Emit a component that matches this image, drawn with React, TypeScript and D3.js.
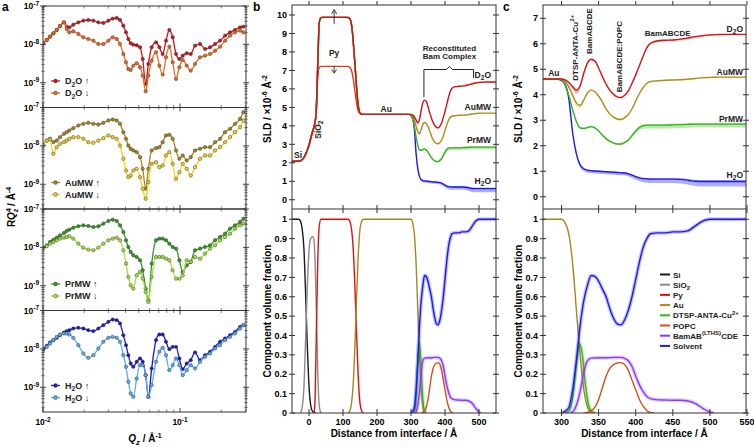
import React from 'react';
import * as d3 from 'd3';

// ---------- Panel a data (RQz^4 vs Qz) ----------
const Q = [0.0100, 0.01064, 0.01125, 0.01190, 0.01259, 0.01331, 0.01423, 0.01489, 0.01557, 0.01664, 0.01811, 0.01970, 0.02142, 0.02330, 0.02534, 0.02756, 0.02999, 0.03225, 0.03448, 0.03648, 0.03857, 0.04034, 0.04196, 0.04365, 0.04563, 0.04828, 0.05105, 0.05340, 0.05616, 0.05873, 0.06211, 0.06680, 0.07066, 0.07470, 0.07900, 0.08357, 0.08841, 0.09350, 0.09888, 0.1046, 0.1119, 0.1197, 0.1287, 0.1400, 0.1522, 0.1656, 0.1801, 0.1959, 0.2131, 0.2317, 0.2521, 0.2742, 0.2899];
const D2O_UP = [1.07e-8, 1.30e-8, 1.59e-8, 1.94e-8, 2.37e-8, 3.01e-8, 3.75e-8, 2.90e-8, 2.78e-8, 3.26e-8, 3.75e-8, 4.15e-8, 4.32e-8, 4.15e-8, 3.75e-8, 3.61e-8, 4.15e-8, 4.68e-8, 4.87e-8, 4.32e-8, 3.07e-8, 2.06e-8, 1.38e-8, 1.07e-8, 9.84e-9, 9.45e-9, 8.39e-9, 4.17e-9, 9.3e-10, 3.09e-9, 8.39e-9, 1.13e-8, 8.39e-9, 5.62e-9, 1.25e-8, 2.37e-8, 1.53e-8, 5.62e-9, 4.17e-9, 5.09e-9, 5.85e-9, 5.62e-9, 9.27e-9, 1.02e-8, 7.59e-9, 8.39e-9, 1.02e-8, 1.25e-8, 1.69e-8, 2.06e-8, 2.37e-8, 2.78e-8, 2.90e-8];
const D2O_DOWN = [1.07e-8, 1.30e-8, 1.59e-8, 1.94e-8, 2.37e-8, 3.01e-8, 3.75e-8, 2.52e-8, 2.06e-8, 2.19e-8, 1.87e-8, 1.53e-8, 1.38e-8, 1.25e-8, 1.02e-8, 1.02e-8, 1.25e-8, 1.53e-8, 1.38e-8, 1.02e-8, 5.62e-9, 3.41e-9, 2.29e-9, 2.15e-9, 2.79e-9, 3.21e-9, 2.53e-9, 1.53e-9, 5.99e-10, 1.53e-9, 3.77e-9, 6.21e-9, 2.79e-9, 1.63e-9, 4.61e-9, 8.73e-9, 3.41e-9, 1.26e-9, 2.53e-9, 3.92e-9, 2.79e-9, 2.07e-9, 3.09e-9, 4.61e-9, 5.09e-9, 5.62e-9, 6.87e-9, 8.73e-9, 1.25e-8, 1.69e-8, 2.06e-8, 2.28e-8, 2.06e-8];
const AUMW_UP = [1.07e-8, 1.38e-8, 1.53e-8, 1.25e-8, 1.38e-8, 1.69e-8, 2.06e-8, 2.28e-8, 2.52e-8, 2.90e-8, 3.40e-8, 3.75e-8, 3.99e-8, 3.75e-8, 3.61e-8, 3.99e-8, 4.59e-8, 4.87e-8, 4.59e-8, 3.75e-8, 2.28e-8, 1.53e-8, 1.02e-8, 8.39e-9, 7.59e-9, 6.87e-9, 5.09e-9, 2.53e-9, 7.62e-10, 2.53e-9, 7.59e-9, 8.73e-9, 9.27e-9, 1.25e-8, 1.87e-8, 1.94e-8, 1.53e-8, 7.59e-9, 4.61e-9, 5.62e-9, 4.17e-9, 5.09e-9, 7.59e-9, 8.39e-9, 9.27e-9, 9.27e-9, 1.25e-8, 1.53e-8, 2.28e-8, 2.78e-8, 3.75e-8, 5.07e-8, 7.56e-8];
const AUMW_DOWN = [1.07e-8, 1.38e-8, 1.47e-8, 6.21e-9, 9.27e-9, 1.13e-8, 1.25e-8, 1.38e-8, 1.53e-8, 1.69e-8, 1.69e-8, 1.53e-8, 1.25e-8, 1.20e-8, 1.38e-8, 1.59e-8, 1.87e-8, 1.69e-8, 1.53e-8, 1.02e-8, 4.61e-9, 2.29e-9, 1.53e-9, 1.69e-9, 2.29e-9, 2.53e-9, 1.53e-9, 7.62e-10, 4.18e-10, 1.14e-9, 3.41e-9, 3.77e-9, 2.79e-9, 3.09e-9, 5.62e-9, 6.87e-9, 3.41e-9, 1.39e-9, 2.07e-9, 3.41e-9, 2.53e-9, 1.69e-9, 2.79e-9, 4.61e-9, 5.62e-9, 5.62e-9, 7.59e-9, 9.27e-9, 1.25e-8, 1.69e-8, 2.28e-8, 3.07e-8, 4.59e-8];
const PRMW_UP = [9.84e-9, 1.13e-8, 1.38e-8, 1.59e-8, 1.79e-8, 2.06e-8, 2.37e-8, 2.67e-8, 2.90e-8, 3.26e-8, 3.54e-8, 3.75e-8, 3.61e-8, 3.40e-8, 3.54e-8, 4.15e-8, 4.87e-8, 5.27e-8, 4.87e-8, 3.75e-8, 2.52e-8, 1.53e-8, 1.02e-8, 7.59e-9, 6.21e-9, 5.62e-9, 4.61e-9, 2.53e-9, 8.41e-10, 4.18e-10, 3.77e-9, 1.53e-8, 1.69e-8, 1.69e-8, 1.53e-8, 1.25e-8, 1.02e-8, 9.27e-9, 4.61e-9, 2.29e-9, 3.41e-9, 4.17e-9, 8.39e-9, 9.27e-9, 1.02e-8, 1.13e-8, 1.53e-8, 1.87e-8, 2.28e-8, 3.07e-8, 3.75e-8, 4.59e-8, 5.60e-8];
const PRMW_DOWN = [9.27e-9, 1.07e-8, 1.25e-8, 1.38e-8, 1.53e-8, 1.69e-8, 1.79e-8, 1.87e-8, 1.94e-8, 1.69e-8, 1.25e-8, 9.84e-9, 8.73e-9, 8.39e-9, 9.84e-9, 1.25e-8, 1.53e-8, 1.69e-8, 1.79e-8, 1.53e-8, 8.39e-9, 3.77e-9, 1.69e-9, 1.03e-9, 8.41e-10, 1.87e-9, 2.29e-9, 1.53e-9, 6.89e-10, 3.78e-10, 1.69e-9, 5.62e-9, 5.62e-9, 5.62e-9, 5.09e-9, 4.61e-9, 2.53e-9, 1.53e-9, 1.53e-9, 1.87e-9, 4.61e-9, 4.17e-9, 5.62e-9, 5.09e-9, 6.87e-9, 9.27e-9, 1.13e-8, 1.53e-8, 1.87e-8, 2.28e-8, 3.07e-8, 3.75e-8, 4.15e-8];
const H2O_UP = [9.84e-9, 1.20e-8, 1.47e-8, 1.69e-8, 1.94e-8, 2.28e-8, 2.67e-8, 2.90e-8, 3.07e-8, 3.40e-8, 3.54e-8, 3.40e-8, 3.07e-8, 2.90e-8, 3.40e-8, 4.15e-8, 5.07e-8, 5.83e-8, 5.60e-8, 4.59e-8, 2.28e-8, 1.25e-8, 6.87e-9, 4.17e-9, 3.41e-9, 4.61e-9, 5.62e-9, 4.61e-9, 2.07e-9, 5.64e-10, 3.09e-9, 1.69e-8, 2.37e-8, 2.37e-8, 1.53e-8, 9.84e-9, 1.13e-8, 1.13e-8, 5.62e-9, 2.97e-9, 4.17e-9, 5.09e-9, 8.1e-9, 5.09e-9, 6.87e-9, 8.39e-9, 1.13e-8, 1.53e-8, 1.87e-8, 2.28e-8, 2.78e-8, 3.75e-8, 4.15e-8];
const H2O_DOWN = [9.27e-9, 1.13e-8, 1.38e-8, 1.69e-8, 2.06e-8, 2.37e-8, 2.52e-8, 2.52e-8, 2.37e-8, 1.94e-8, 1.25e-8, 7.59e-9, 5.85e-9, 6.87e-9, 1.02e-8, 1.53e-8, 1.94e-8, 2.06e-8, 1.94e-8, 1.53e-8, 6.87e-9, 3.41e-9, 1.39e-9, 6.89e-10, 5.64e-10, 1.69e-9, 3.77e-9, 3.77e-9, 2.07e-9, 5.64e-10, 1.14e-9, 4.61e-9, 8.39e-9, 1.07e-8, 6.87e-9, 2.79e-9, 3.77e-9, 5.62e-9, 3.77e-9, 2.07e-9, 2.79e-9, 3.77e-9, 3.09e-9, 4.61e-9, 6.21e-9, 7.59e-9, 1.02e-8, 1.25e-8, 1.69e-8, 2.06e-8, 2.52e-8, 3.40e-8, 4.15e-8];
const A_XTICKS = [0.01, 0.1];
const A_YTICKS = [1e-7, 1e-8, 1e-9];

// ---------- SLD profile data ----------
const SUB_X = [-50, -26, -20, -15, -11, -5, -1, 4, 9, 16, 21, 24, 27, 30, 33, 36, 40, 112, 117, 122, 127, 132, 137, 142, 147, 151, 156, 162];
const PY_UP = [2.07, 2.1, 2.18, 2.28, 2.43, 2.68, 2.88, 3.25, 3.6, 4.05, 4.68, 6.3, 8.1, 9.55, 9.8, 9.86, 9.87, 9.87, 9.85, 9.73, 9.19, 8.11, 6.85, 5.59, 4.86, 4.67, 4.63, 4.62];
const PY_DOWN = [2.07, 2.1, 2.18, 2.28, 2.43, 2.68, 2.88, 3.25, 3.6, 4.05, 4.68, 6.0, 6.9, 7.15, 7.2, 7.22, 7.22, 7.22, 7.2, 7.12, 6.85, 6.3, 5.6, 5.0, 4.72, 4.65, 4.63, 4.62];
const TAIL_X = [295, 300, 305, 310, 315, 320, 325, 330, 335, 340, 345, 350, 355, 360, 365, 370, 375, 380, 385, 390, 395, 400, 405, 410, 415, 420, 430, 440, 450, 460, 470, 480, 490, 500, 510, 520, 535, 550];
const D2O_SLD = [4.62, 4.62, 4.58, 4.48, 4.32, 4.18, 4.35, 4.85, 5.25, 5.39, 5.32, 5.05, 4.72, 4.42, 4.18, 4.02, 3.92, 3.89, 3.98, 4.15, 4.45, 4.78, 5.15, 5.52, 5.85, 6.02, 6.12, 6.14, 6.15, 6.18, 6.23, 6.28, 6.32, 6.35, 6.36, 6.37, 6.37, 6.37];
const AUMW_SLD = [4.62, 4.61, 4.52, 4.30, 3.98, 3.68, 3.58, 3.80, 4.08, 4.18, 4.12, 3.95, 3.72, 3.45, 3.25, 3.12, 3.05, 3.03, 3.10, 3.22, 3.45, 3.75, 4.05, 4.28, 4.45, 4.52, 4.55, 4.57, 4.58, 4.59, 4.61, 4.64, 4.67, 4.68, 4.69, 4.69, 4.69, 4.69];
const PRMW_SLD = [4.62, 4.58, 4.35, 3.95, 3.40, 2.95, 2.70, 2.68, 2.72, 2.75, 2.70, 2.58, 2.42, 2.28, 2.18, 2.11, 2.07, 2.07, 2.13, 2.23, 2.40, 2.58, 2.72, 2.79, 2.81, 2.81, 2.81, 2.81, 2.82, 2.83, 2.84, 2.85, 2.85, 2.85, 2.85, 2.85, 2.85, 2.85];
const H2O_SLD = [4.62, 4.55, 4.40, 3.80, 2.50, 1.68, 1.25, 1.10, 1.04, 1.02, 1.01, 1.00, 0.99, 0.98, 0.97, 0.96, 0.95, 0.94, 0.93, 0.90, 0.85, 0.79, 0.74, 0.71, 0.70, 0.69, 0.69, 0.69, 0.69, 0.68, 0.65, 0.61, 0.60, 0.60, 0.60, 0.60, 0.60, 0.60];
const D2O_BAND = [0.02, 0.02, 0.04, 0.08, 0.12, 0.14, 0.12, 0.08, 0.05, 0.05, 0.04, 0.04, 0.04, 0.04, 0.04, 0.04, 0.04, 0.04, 0.04, 0.04, 0.04, 0.04, 0.04, 0.04, 0.04, 0.04, 0.05, 0.05, 0.05, 0.05, 0.06, 0.06, 0.05, 0.05, 0.04, 0.04, 0.04, 0.04];
const AUMW_BAND = [0.02, 0.02, 0.04, 0.06, 0.1, 0.12, 0.1, 0.06, 0.04, 0.03, 0.03, 0.03, 0.03, 0.03, 0.03, 0.03, 0.03, 0.03, 0.03, 0.03, 0.03, 0.03, 0.03, 0.03, 0.03, 0.03, 0.03, 0.03, 0.03, 0.03, 0.03, 0.03, 0.03, 0.03, 0.03, 0.03, 0.03, 0.03];
const PRMW_BAND = [0.02, 0.02, 0.02, 0.02, 0.02, 0.02, 0.04, 0.05, 0.05, 0.05, 0.04, 0.04, 0.04, 0.04, 0.04, 0.04, 0.04, 0.04, 0.05, 0.06, 0.08, 0.1, 0.11, 0.12, 0.13, 0.13, 0.13, 0.13, 0.13, 0.13, 0.13, 0.13, 0.13, 0.13, 0.13, 0.13, 0.13, 0.13];
const H2O_BAND = [0.02, 0.02, 0.02, 0.03, 0.05, 0.07, 0.09, 0.1, 0.1, 0.1, 0.1, 0.1, 0.1, 0.1, 0.1, 0.1, 0.1, 0.1, 0.1, 0.1, 0.11, 0.12, 0.13, 0.14, 0.15, 0.15, 0.15, 0.15, 0.15, 0.16, 0.17, 0.19, 0.2, 0.2, 0.2, 0.2, 0.2, 0.2];

// ---------- Component volume fractions ----------
const SI_X = [-50, -30, -25, -20, -15, -10, -5, 0, 5, 10, 15, 20];
const SI_Y = [1, 1, 0.99, 0.95, 0.85, 0.62, 0.35, 0.14, 0.04, 0.01, 0.003, 0];
const SIO2_X = [-25, -20, -15, -10, -5, 0, 5, 10, 14, 18, 22, 26, 30, 35];
const SIO2_Y = [0, 0.03, 0.13, 0.38, 0.65, 0.84, 0.9, 0.91, 0.9, 0.78, 0.5, 0.2, 0.04, 0];
const PY_X = [15, 18, 22, 26, 30, 35, 115, 120, 125, 130, 135, 138, 140, 145, 150, 155, 160];
const PY_Y = [0, 0.08, 0.45, 0.8, 0.96, 1, 1, 0.99, 0.95, 0.85, 0.65, 0.5, 0.4, 0.18, 0.05, 0.01, 0];
const AU_X = [115, 120, 125, 130, 135, 138, 140, 145, 150, 155, 160, 300, 305, 310, 315, 320, 325, 330, 335, 340];
const AU_Y = [0, 0.01, 0.05, 0.15, 0.35, 0.5, 0.6, 0.82, 0.95, 0.99, 1, 1, 0.98, 0.92, 0.77, 0.53, 0.3, 0.12, 0.03, 0];
const DTSP_X = [305, 310, 315, 320, 324, 328, 332, 336, 340, 345];
const DTSP_Y = [0, 0.01, 0.08, 0.25, 0.36, 0.3, 0.15, 0.05, 0.01, 0];
const POPC_X = [330, 335, 340, 345, 350, 355, 360, 365, 370, 375, 380, 385, 390, 395, 400, 405, 410, 415, 420, 425];
const POPC_Y = [0, 0.003, 0.012, 0.03, 0.07, 0.13, 0.19, 0.23, 0.25, 0.258, 0.26, 0.25, 0.22, 0.17, 0.12, 0.07, 0.035, 0.012, 0.003, 0];
const BAM_X = [312, 316, 320, 325, 330, 335, 340, 350, 360, 370, 380, 385, 390, 395, 400, 405, 410, 415, 420, 430, 440, 450, 460, 470, 480, 490, 500, 505];
const BAM_Y = [0, 0.01, 0.04, 0.11, 0.21, 0.27, 0.283, 0.285, 0.285, 0.287, 0.287, 0.282, 0.27, 0.24, 0.19, 0.145, 0.11, 0.085, 0.074, 0.068, 0.067, 0.066, 0.066, 0.062, 0.05, 0.025, 0.005, 0];
const SOLV_X = [300, 305, 310, 315, 320, 325, 330, 335, 340, 345, 350, 355, 360, 365, 370, 375, 380, 385, 390, 395, 400, 405, 410, 415, 420, 430, 440, 450, 460, 470, 480, 490, 500, 510, 550];
const SOLV_Y = [0, 0.01, 0.03, 0.12, 0.27, 0.45, 0.58, 0.66, 0.71, 0.705, 0.68, 0.64, 0.6, 0.54, 0.49, 0.46, 0.455, 0.48, 0.53, 0.6, 0.69, 0.78, 0.855, 0.9, 0.925, 0.93, 0.93, 0.935, 0.935, 0.94, 0.965, 0.99, 1, 1, 1];

const FONT = "'Liberation Sans', Arial, Helvetica, sans-serif";
const AXC = '#333';

const Sub = ({ c }: { c: string }) => <tspan dy={2.5} fontSize="0.75em">{c}</tspan>;

// ---------- Panel a ----------
function PanelA() {
  const x = d3.scaleLog().domain([0.01, 0.303]).range([43, 246]);
  const tops = [6, 107.5, 209, 310.5];
  const h = 101.5;
  const subs = [
    { up: D2O_UP, down: D2O_DOWN, cu: '#c8141a', cd: '#ee6a1e', name: 'D2O' },
    { up: AUMW_UP, down: AUMW_DOWN, cu: '#a8861c', cd: '#f2d21e', name: 'AuMW' },
    { up: PRMW_UP, down: PRMW_DOWN, cu: '#2f9a1f', cd: '#a6e23c', name: 'PrMW' },
    { up: H2O_UP, down: H2O_DOWN, cu: '#1818cc', cd: '#5aaeea', name: 'H2O' },
  ];
  const minorX: number[] = [];
  for (const d of [0.01, 0.1]) for (let k = 2; k <= 9; k++) if (k * d <= 0.303) minorX.push(k * d);
  const nameEl = (n: string) =>
    n === 'D2O' ? <>D<Sub c="2" /><tspan dy={-2.5}>O</tspan></> :
    n === 'H2O' ? <>H<Sub c="2" /><tspan dy={-2.5}>O</tspan></> : <>{n}</>;
  return (
    <g>
      <text x={2} y={11} fontSize={12} fontWeight="bold">a</text>
      {subs.map((s, i) => {
        const top = tops[i], bot = top + h;
        const y = d3.scaleLog().domain([2.265e-10, 1e-7]).range([bot, top]);
        const line = d3.line<number>().x((_, j) => x(Q[j])).y(v => y(v)).curve(d3.curveMonotoneX);
        const minorY: number[] = [];
        for (const d of [1e-10, 1e-9, 1e-8]) for (let k = 2; k <= 9; k++) { const v = k * d; if (v >= 2.265e-10 && v <= 1e-7) minorY.push(v); }
        const legRows = [{ c: s.cu, arrow: '↑', dy: 75 }, { c: s.cd, arrow: '↓', dy: 87 }];
        return (
          <g key={i}>
            <clipPath id={`ca${i}`}><rect x={43} y={top} width={203} height={h} /></clipPath>
            <g clipPath={`url(#ca${i})`}>
              {[{ v: s.up, c: s.cu }, { v: s.down, c: s.cd }].map((ser, k) => (
                <g key={k}>
                  <path d={line(ser.v) || ''} fill="none" stroke={ser.c} strokeWidth={1.3} />
                  {ser.v.map((v, j) => (
                    <circle key={j} cx={x(Q[j])} cy={y(v)} r={1.7} fill={ser.c} stroke="#3a3a3a" strokeWidth={0.5} />
                  ))}
                </g>
              ))}
            </g>
            <rect x={43} y={top} width={203} height={h} fill="none" stroke={AXC} strokeWidth={1} />
            {A_YTICKS.map(v => (
              <g key={v}>
                <line x1={43 - 3} x2={43 + 3} y1={y(v)} y2={y(v)} stroke={AXC} strokeWidth={0.9} />
                <line x1={246 - 3} x2={246 + 3} y1={y(v)} y2={y(v)} stroke={AXC} strokeWidth={0.9} />
                <text x={39} y={y(v) + 3} textAnchor="end" fontSize={8.5} fontWeight="bold">10<tspan dy={-3.5} fontSize={6.5}>{Math.round(Math.log10(v))}</tspan></text>
              </g>
            ))}
            {minorY.map(v => (
              <g key={v}>
                <line x1={43 - 1.8} x2={43 + 1.8} y1={y(v)} y2={y(v)} stroke={AXC} strokeWidth={0.6} />
                <line x1={246 - 1.8} x2={246 + 1.8} y1={y(v)} y2={y(v)} stroke={AXC} strokeWidth={0.6} />
              </g>
            ))}
            {A_XTICKS.map(v => (
              <g key={v}>
                <line x1={x(v)} x2={x(v)} y1={top} y2={top + 4} stroke={AXC} strokeWidth={0.9} />
                <line x1={x(v)} x2={x(v)} y1={bot} y2={bot - 4} stroke={AXC} strokeWidth={0.9} />
              </g>
            ))}
            {minorX.map(v => (
              <g key={v}>
                <line x1={x(v)} x2={x(v)} y1={top} y2={top + 2.5} stroke={AXC} strokeWidth={0.6} />
                <line x1={x(v)} x2={x(v)} y1={bot} y2={bot - 2.5} stroke={AXC} strokeWidth={0.6} />
              </g>
            ))}
            {legRows.map((r, k) => (
              <g key={k}>
                <line x1={51} x2={60} y1={top + r.dy} y2={top + r.dy} stroke={r.c} strokeWidth={1.3} />
                <circle cx={55.5} cy={top + r.dy} r={1.9} fill={r.c} stroke="#3a3a3a" strokeWidth={0.5} />
                <text x={65} y={top + r.dy + 3.2} fontSize={9} fontWeight="bold" fill="#222">{nameEl(s.name)} {r.arrow}</text>
              </g>
            ))}
          </g>
        );
      })}
      {A_XTICKS.map(v => (
        <text key={v} x={x(v)} y={425} textAnchor="middle" fontSize={8.5} fontWeight="bold">10<tspan dy={-3.5} fontSize={6.5}>{Math.round(Math.log10(v))}</tspan></text>
      ))}
      <text x={145} y={442} textAnchor="middle" fontSize={10} fontWeight="bold"><tspan fontStyle="italic">Q</tspan><tspan dy={2.5} fontSize={7.5} fontStyle="italic">z</tspan><tspan dy={-2.5}> / Å</tspan><tspan dy={-4} fontSize={7}>-1</tspan></text>
      <text transform="translate(15,207) rotate(-90)" textAnchor="middle" fontSize={10} fontWeight="bold">R<tspan fontStyle="italic">Q</tspan><tspan dy={-4} fontSize={7}>4</tspan><tspan dx={-4} dy={6.5} fontSize={7} fontStyle="italic">z</tspan><tspan dy={-2.5}> / Å</tspan><tspan dy={-4} fontSize={7}>-4</tspan></text>
    </g>
  );
}

// ---------- shared SLD+component helpers ----------
const CONTRASTS = [
  { v: H2O_SLD, band: H2O_BAND, c: '#1a1af0', bc: '#9a9af5' },
  { v: PRMW_SLD, band: PRMW_BAND, c: '#35b01c', bc: '#a8e49a' },
  { v: AUMW_SLD, band: AUMW_BAND, c: '#b08a1a', bc: '#e8dc90' },
  { v: D2O_SLD, band: D2O_BAND, c: '#d41414', bc: '#f0a0a0' },
];
const COMPS = [
  { x: SI_X, y: SI_Y, c: '#1a1a1a', halo: false },
  { x: SIO2_X, y: SIO2_Y, c: '#8a8a8a', halo: false },
  { x: PY_X, y: PY_Y, c: '#e01010', halo: false },
  { x: AU_X, y: AU_Y, c: '#a8861a', halo: false },
  { x: DTSP_X, y: DTSP_Y, c: '#3cb020', halo: true },
  { x: POPC_X, y: POPC_Y, c: '#d4501a', halo: false },
  { x: BAM_X, y: BAM_Y, c: '#8a3cf0', halo: true },
  { x: SOLV_X, y: SOLV_Y, c: '#1a1af0', halo: true },
];

function Profiles({ id, x, ys, yc, left, right, xTicks, sTicks, cTicks, top, mid, bot, children }: any) {
  const fullX = SUB_X.concat(TAIL_X);
  const line = (xs: number[]) => d3.line<number>().x((_, j) => x(xs[j])).y(v => ys(v)).curve(d3.curveMonotoneX);
  const area = d3.area<number>().x((_, j) => x(TAIL_X[j])).curve(d3.curveMonotoneX);
  const cline = (xs: number[]) => d3.line<number>().x((_, j) => x(xs[j])).y(v => yc(v)).curve(d3.curveMonotoneX);
  const w = right - left;
  return (
    <g>
      <clipPath id={`s${id}`}><rect x={left} y={top} width={w} height={mid - top} /></clipPath>
      <clipPath id={`c${id}`}><rect x={left} y={mid} width={w} height={bot - mid} /></clipPath>
      <g clipPath={`url(#s${id})`}>
        {CONTRASTS.map((ct, i) => (
          <path key={i} d={area.y0((_, j) => ys(ct.v[j] - ct.band[j])).y1((_, j) => ys(ct.v[j] + ct.band[j] * 0.3))(ct.v) || ''} fill={ct.bc} opacity={0.8} />
        ))}
        <path d={line(SUB_X)(PY_DOWN) || ''} fill="none" stroke="#d8401a" strokeWidth={1.4} />
        {CONTRASTS.map((ct, i) => (
          <path key={i} d={line(fullX)(PY_UP.concat(ct.v)) || ''} fill="none" stroke={ct.c} strokeWidth={1.4} />
        ))}
      </g>
      <g clipPath={`url(#c${id})`}>
        {COMPS.map((cp, i) => (
          <g key={i}>
            {cp.halo && <path d={cline(cp.x)(cp.y) || ''} fill="none" stroke={cp.c} strokeOpacity={0.25} strokeWidth={4} />}
            <path d={cline(cp.x)(cp.y) || ''} fill="none" stroke={cp.c} strokeWidth={1.4} />
          </g>
        ))}
      </g>
      <rect x={left} y={top} width={w} height={bot - top} fill="none" stroke={AXC} strokeWidth={1} />
      <line x1={left} x2={right} y1={mid} y2={mid} stroke={AXC} strokeWidth={1} />
      {xTicks.map((t: number) => (
        <g key={t}>
          <line x1={x(t)} x2={x(t)} y1={top - 4} y2={top} stroke={AXC} />
          <line x1={x(t)} x2={x(t)} y1={mid - 4} y2={mid + 4} stroke={AXC} />
          <line x1={x(t)} x2={x(t)} y1={bot - 4} y2={bot + 3} stroke={AXC} />
          <text x={x(t)} y={425} textAnchor="middle" fontSize={9} fontWeight="bold">{t}</text>
        </g>
      ))}
      {sTicks.map((t: number) => (
        <g key={t}>
          <line x1={left - 3} x2={left + 3} y1={ys(t)} y2={ys(t)} stroke={AXC} />
          <line x1={right - 3} x2={right + 3} y1={ys(t)} y2={ys(t)} stroke={AXC} />
          <text x={left - 5} y={ys(t) + 3.2} textAnchor="end" fontSize={9} fontWeight="bold">{t}</text>
        </g>
      ))}
      {cTicks.map((t: number) => (
        <g key={t}>
          <line x1={left - 3} x2={left + 3} y1={yc(t)} y2={yc(t)} stroke={AXC} />
          <line x1={right - 3} x2={right + 3} y1={yc(t)} y2={yc(t)} stroke={AXC} />
          <text x={left - 5} y={yc(t) + 3.2} textAnchor="end" fontSize={9} fontWeight="bold">{t === 0 || t === 1 ? t : t.toFixed(1)}</text>
        </g>
      ))}
      <text x={(left + right) / 2} y={437} textAnchor="middle" fontSize={10} fontWeight="bold">Distance from interface / Å</text>
      <text transform={`translate(${left - 21},${(top + mid) / 2 + 2}) rotate(-90)`} textAnchor="middle" fontSize={10} fontWeight="bold">SLD / ×10<tspan dy={-4} fontSize={7}>-6</tspan><tspan dy={4}> Å</tspan><tspan dy={-4} fontSize={7}>-2</tspan></text>
      <text transform={`translate(${left - 21},${(mid + bot) / 2}) rotate(-90)`} textAnchor="middle" fontSize={10} fontWeight="bold">Component volume fraction</text>
      {children}
    </g>
  );
}

const B_XTICKS = [0, 100, 200, 300, 400, 500];
const C_XTICKS = [300, 350, 400, 450, 500, 550];
const B_STICKS = [0, 1, 2, 3, 4, 5, 6, 7, 8, 9, 10];
const C_STICKS = [0, 1, 2, 3, 4, 5, 6, 7];
const COMP_TICKS = [0, 0.1, 0.2, 0.3, 0.4, 0.5, 0.6, 0.7, 0.8, 0.9, 1];

const fs8 = { fontSize: 8.5, fontWeight: 'bold' as const, fill: '#222' };

function PanelB() {
  const x = d3.scaleLinear().domain([-50, 550]).range([292, 496]);
  const ys = d3.scaleLinear().domain([-0.5, 10.54]).range([209, 5]);
  const yc = d3.scaleLinear().domain([0, 1.053]).range([413, 209]);
  const bl = x(338), br = x(484), bm = x(413), by = ys(7.05);
  return (
    <g>
      <text x={253} y={11} fontSize={12} fontWeight="bold">b</text>
      <Profiles id="b" x={x} ys={ys} yc={yc} left={292} right={496} xTicks={B_XTICKS} sTicks={B_STICKS} cTicks={COMP_TICKS} top={5} mid={209} bot={413}>
        <text x={x(-44)} y={ys(2.27)} {...fs8}>Si</text>
        <text transform={`translate(${x(34)},${ys(3.3)}) rotate(-90)`} {...fs8}>SiO<tspan dy={2} fontSize={6.5}>2</tspan></text>
        <text x={x(74)} y={ys(7.8)} textAnchor="middle" {...fs8}>Py</text>
        <line x1={x(74)} x2={x(74)} y1={ys(9.5)} y2={ys(10.2)} stroke="#222" strokeWidth={0.9} />
        <path d={`M${x(74) - 2.5},${ys(10.05)} L${x(74)},${ys(10.3)} L${x(74) + 2.5},${ys(10.05)}`} fill="none" stroke="#222" strokeWidth={0.9} />
        <line x1={x(74)} x2={x(74)} y1={ys(7.25)} y2={ys(6.9)} stroke="#222" strokeWidth={0.9} />
        <path d={`M${x(74) - 2.5},${ys(7.05)} L${x(74)},${ys(6.85)} L${x(74) + 2.5},${ys(7.05)}`} fill="none" stroke="#222" strokeWidth={0.9} />
        <text x={x(227)} y={ys(4.75)} textAnchor="middle" {...fs8}>Au</text>
        <text x={x(413)} y={ys(8.05)} textAnchor="middle" fontSize={8} fontWeight="bold" fill="#222">Reconstituted</text>
        <text x={x(413)} y={ys(7.6)} textAnchor="middle" fontSize={8} fontWeight="bold" fill="#222">Bam Complex</text>
        <path d={`M${bl},${ys(5.55)} L${bl},${by} L${bm - 3},${by} L${bm},${by - 3} L${bm + 3},${by} L${br},${by} L${br},${ys(6.6)}`} fill="none" stroke="#222" strokeWidth={1} />
        <text x={491} y={ys(6.58)} textAnchor="end" {...fs8}>D<tspan dy={2} fontSize={6.5}>2</tspan><tspan dy={-2}>O</tspan></text>
        <text x={491} y={ys(4.88)} textAnchor="end" {...fs8}>AuMW</text>
        <text x={491} y={ys(3.05)} textAnchor="end" {...fs8}>PrMW</text>
        <text x={491} y={ys(0.86)} textAnchor="end" {...fs8}>H<tspan dy={2} fontSize={6.5}>2</tspan><tspan dy={-2}>O</tspan></text>
      </Profiles>
    </g>
  );
}

function PanelC() {
  const x = d3.scaleLinear().domain([275, 550]).range([543, 747]);
  const ys = d3.scaleLinear().domain([-0.48, 7.52]).range([209, 5]);
  const yc = d3.scaleLinear().domain([0, 1.053]).range([413, 209]);
  const legend = [
    { c: '#1a1a1a', t: <>Si</> },
    { c: '#8a8a8a', t: <>SiO<tspan dy={2} fontSize={6}>2</tspan></> },
    { c: '#e01010', t: <>Py</> },
    { c: '#a8861a', t: <>Au</> },
    { c: '#3cb020', t: <>DTSP-ANTA-Cu<tspan dy={-3.5} fontSize={6}>2+</tspan></> },
    { c: '#d4501a', t: <>POPC</> },
    { c: '#8a3cf0', t: <>BamAB<tspan dy={-3.5} fontSize={6}>(LTHS)</tspan><tspan dy={3.5}>CDE</tspan></> },
    { c: '#1a1af0', t: <>Solvent</> },
  ];
  return (
    <g>
      <text x={503} y={11} fontSize={12} fontWeight="bold">c</text>
      <Profiles id="c" x={x} ys={ys} yc={yc} left={543} right={746} xTicks={C_XTICKS} sTicks={C_STICKS} cTicks={COMP_TICKS} top={5} mid={209} bot={413}>
        <text x={x(282)} y={ys(4.75)} {...fs8}>Au</text>
        <text transform={`translate(${x(322)},${ys(4.55)}) rotate(-90)`} fontSize={8} fontWeight="bold" fill="#222">DTSP-ANTA-Cu<tspan dy={-3.5} fontSize={6}>2+</tspan></text>
        <text transform={`translate(${x(341)},${ys(5.6)}) rotate(-90)`} fontSize={8} fontWeight="bold" fill="#222">BamABCDE</text>
        <text transform={`translate(${x(381)},${ys(4.1)}) rotate(-90)`} fontSize={8} fontWeight="bold" fill="#222">BamABCDE:POPC</text>
        <text x={x(443)} y={ys(6.3)} textAnchor="middle" fontSize={8} fontWeight="bold" fill="#222">BamABCDE</text>
        <text x={743} y={ys(6.45)} textAnchor="end" {...fs8}>D<tspan dy={2} fontSize={6.5}>2</tspan><tspan dy={-2}>O</tspan></text>
        <text x={743} y={ys(4.76)} textAnchor="end" {...fs8}>AuMW</text>
        <text x={743} y={ys(2.92)} textAnchor="end" {...fs8}>PrMW</text>
        <text x={743} y={ys(0.75)} textAnchor="end" {...fs8}>H<tspan dy={2} fontSize={6.5}>2</tspan><tspan dy={-2}>O</tspan></text>
        {legend.map((l, i) => (
          <g key={i}>
            <line x1={660} x2={670} y1={274.5 + i * 10.2} y2={274.5 + i * 10.2} stroke={l.c} strokeWidth={2} />
            <text x={673} y={277.5 + i * 10.2} fontSize={8} fontWeight="bold" fill="#222">{l.t}</text>
          </g>
        ))}
      </Profiles>
    </g>
  );
}

export default function App() {
  return (
    <svg width={754} height={447} style={{ position: 'absolute', left: 0, top: 0, background: '#fff' }} fontFamily={FONT}>
      <rect width={754} height={447} fill="#fff" />
      <PanelA />
      <PanelB />
      <PanelC />
    </svg>
  );
}
